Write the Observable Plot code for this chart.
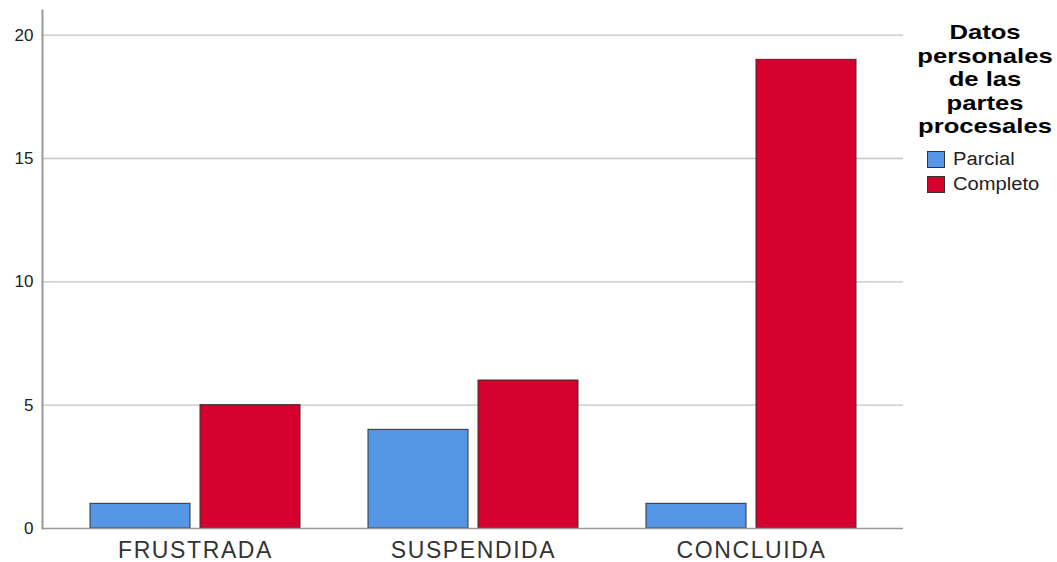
<!DOCTYPE html>
<html><head><meta charset="utf-8">
<script src="https://cdn.jsdelivr.net/npm/d3@7"></script>
<script src="https://cdn.jsdelivr.net/npm/@observablehq/plot@0.6"></script>
<style>
body{margin:0;background:#fff;font-family:"Liberation Sans",Arial,sans-serif;}
#wrap{position:relative;width:1057px;height:562px;}
#legend{position:absolute;left:910px;top:20px;width:150px;color:#000;}
#legend .t div{font-weight:bold;font-size:21px;line-height:23.5px;text-align:center;transform:scaleX(1.22);transform-origin:center;}
#legend .it{display:flex;align-items:center;font-size:18px;color:#222;height:25px;margin-left:17px;}
#legend .it span{display:inline-block;transform:scaleX(1.12);transform-origin:left center;}
#legend .sw{width:18px;height:17px;border:1.5px solid #333;box-sizing:border-box;margin-right:8px;}
g[aria-label="x-axis tick label"] text{letter-spacing:1.6px;}
</style></head>
<body><div id="wrap"><div id="chart"></div><div id="legend"></div></div>
<script>
const categories = ["FRUSTRADA", "SUSPENDIDA", "CONCLUIDA"];
const series = ["Parcial", "Completo"];
const parcial = [1, 4, 1];
const completo = [5, 6, 19];
const yTicks = [0, 5, 10, 15, 20];
const colors = ["#5596e6", "#d6002e"];
const legendTitleLines = ["Datos", "personales", "de las", "partes", "procesales"];

const rowsP = categories.map((c, i) => ({cat: c, v: parcial[i]}));
const rowsC = categories.map((c, i) => ({cat: c, v: completo[i]}));

const chart = Plot.plot({
  width: 1057, height: 562,
  marginLeft: 42, marginRight: 154, marginTop: 10, marginBottom: 34,
  style: {fontFamily: "'Liberation Sans', Arial, sans-serif", background: "#fff"},
  x: {domain: categories, paddingInner: 0, paddingOuter: 0.048, label: null},
  y: {domain: [0, 21], label: null},
  marks: [
    Plot.ruleY(yTicks.filter(d => d > 0), {stroke: "#c4c4c4", strokeWidth: 1.3}),
    Plot.barY(rowsP, {x: "cat", y: "v", fill: colors[0], stroke: "#333", strokeWidth: 1, insetLeft: 89, insetRight: 89, dx: -55}),
    Plot.barY(rowsC, {x: "cat", y: "v", fill: colors[1], stroke: "#333", strokeWidth: 1, insetLeft: 89, insetRight: 89, dx: 55}),
    Plot.ruleY([0], {stroke: "#999", strokeWidth: 1.5}),
    Plot.frame({anchor: "left", stroke: "#999", strokeWidth: 2}),
    Plot.axisY({ticks: yTicks, tickSize: 0, tickPadding: 9, fontSize: 17, color: "#222", label: null}),
    Plot.axisX({tickSize: 0, tickPadding: 13, fontSize: 23, color: "#333", label: null})
  ]
});
document.getElementById("chart").appendChild(chart);

const lg = document.getElementById("legend");
const t = document.createElement("div");
t.className = "t";
legendTitleLines.forEach(l => { const d = document.createElement("div"); d.textContent = l; t.appendChild(d); });
lg.appendChild(t);
const spacer = document.createElement("div"); spacer.style.height = "9px"; lg.appendChild(spacer);
series.forEach((s, i) => {
  const it = document.createElement("div"); it.className = "it";
  const sw = document.createElement("div"); sw.className = "sw"; sw.style.background = colors[i];
  const tx = document.createElement("span"); tx.textContent = s;
  it.appendChild(sw); it.appendChild(tx); lg.appendChild(it);
});
</script></body></html>
